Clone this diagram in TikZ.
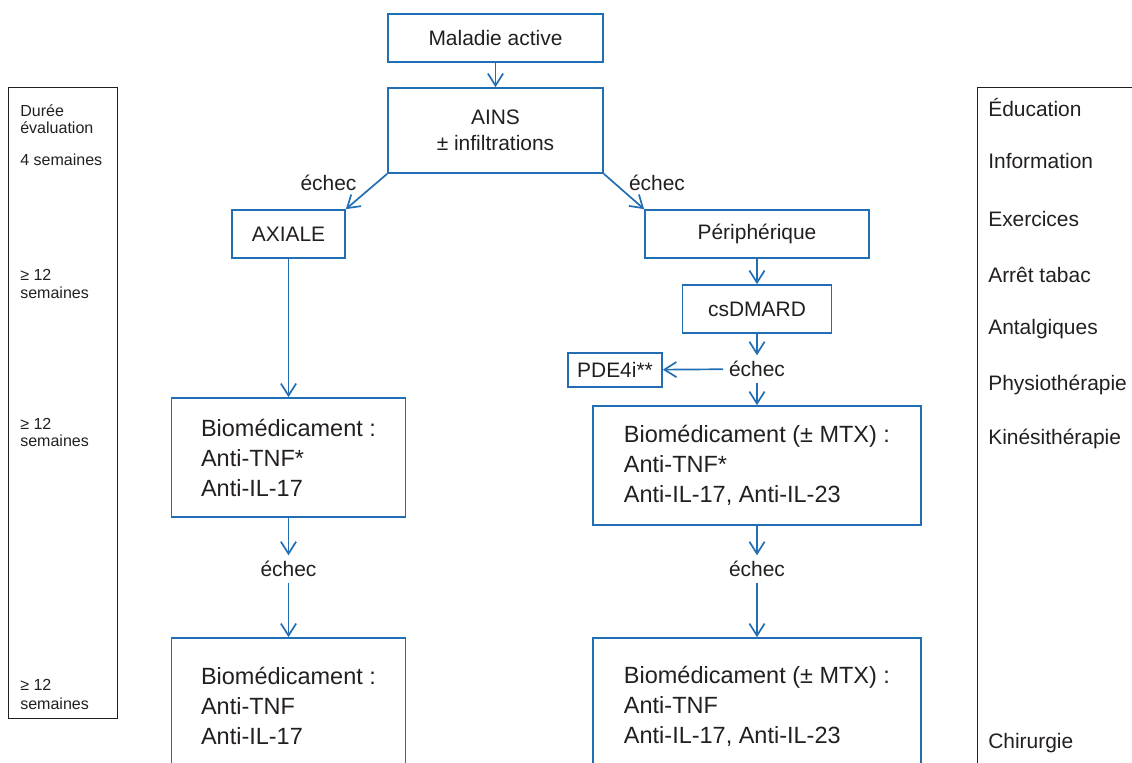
\documentclass[tikz,border=0pt]{standalone}
\usepackage{fontspec}
\setmainfont{Liberation Sans}
\usepackage{tikz}
\usetikzlibrary{arrows.meta}
\definecolor{flowblue}{RGB}{33,110,180}
\definecolor{ink}{RGB}{35,31,32}

\begin{document}
\begin{tikzpicture}[
  x=0.025cm, y=-0.025cm,
  every node/.style={text=ink, font=\fontsize{14.9pt}{18.5pt}\selectfont},
  box/.style={rectangle, draw=flowblue, line width=1.2pt, minimum height=1.2cm, align=center},
  biobox/.style={box, minimum width=#1, minimum height=2.975cm, align=left,
    font=\fontsize{16.7pt}{21.3pt}\selectfont},
  fail/.style={inner sep=4pt},
  flow/.style={draw=flowblue, line width=1.2pt, -{Straight Barb[length=0.3cm,width=0.38cm]}},
  guide/.style={rectangle, draw=ink, line width=0.8pt, minimum width=#1, anchor=north west},
  small/.style={anchor=west, inner sep=0pt, font=\fontsize{11.4pt}{12pt}\selectfont},
  care/.style={anchor=west, inner sep=0pt}
]
\useasboundingbox (0,0) rectangle (1132,763);
\clip (0,0) rectangle (1132,763);

\node[box, minimum width=5.375cm] (mal) at (495.5,38) {Maladie active};
\node[box, minimum width=5.375cm, minimum height=2.125cm] (ains) at (495.5,130.5) {AINS\\± infiltrations};
\node[fail] (echg) at (328.5,183) {échec};
\node[fail] (echd) at (657,183) {échec};
\node[box, minimum width=2.825cm] (axe) at (288.5,234) {AXIALE};
\node[box, minimum width=5.6cm] (peri) at (757,234) {Périphérique};
\node[box, minimum width=3.725cm] (csd) at (757,309) {csDMARD};
\node[fail] (echc) at (757,369) {échec};
\node[box, minimum width=2.35cm, minimum height=0.85cm] (pde) at (615,370) {PDE4i**};
\node[biobox=5.85cm] (bioa) at (288.5,457.5) {Biomédicament :\\Anti-TNF*\\Anti-IL-17};
\node[biobox=8.2cm] (biop) at (757,465.5) {Biomédicament (± MTX) :\\Anti-TNF*\\Anti-IL-17, Anti-IL-23};
\node[fail] (echa) at (288.5,569) {échec};
\node[fail] (echp) at (757,569) {échec};
\node[biobox=5.85cm, minimum height=3.4cm] (bioaa) at (288.5,706) {Biomédicament :\\Anti-TNF\\Anti-IL-17};
\node[biobox=8.2cm, minimum height=3.4cm] (biopp) at (757,706) {Biomédicament (± MTX) :\\Anti-TNF\\Anti-IL-17, Anti-IL-23};

\draw[flow] (mal) -- (ains);
\draw[flow] (ains.south west) -- (axe.north east);
\draw[flow] (ains.south east) -- (peri.north west);
\draw[flow] (axe) -- (bioa);
\draw[flow] (peri) -- (csd);
\draw[flow] (csd) -- (echc);
\draw[flow] (echc) -- (pde);
\draw[flow] (echc) -- (biop);
\draw[flow] (bioa) -- (echa);
\draw[flow] (echa) -- (bioaa);
\draw[flow] (biop) -- (echp);
\draw[flow] (echp) -- (biopp);

\node[guide=2.725cm, minimum height=15.775cm] (duree) at (8,87) {};
\node[small] (d1) at (20,111) {Durée};
\node[small] (d2) at (20,128) {évaluation};
\node[small] (d3) at (20,160) {4 semaines};
\node[small] (d4) at (20,275) {≥ 12};
\node[small] (d5) at (20,293) {semaines};
\node[small] (d6) at (20,424) {≥ 12};
\node[small] (d7) at (20,441) {semaines};
\node[small] (d8) at (20,685) {≥ 12};
\node[small] (d9) at (20,704) {semaines};

\node[guide=5cm, minimum height=17.5cm] (soins) at (977,87) {};
\node[care] (s1) at (988,108) {Éducation};
\node[care] (s2) at (988,161.5) {Information};
\node[care] (s3) at (988,219.5) {Exercices};
\node[care] (s4) at (988,275) {Arrêt tabac};
\node[care] (s5) at (988,329) {Antalgiques};
\node[care] (s6) at (988,385) {Physiothérapie};
\node[care] (s7) at (988,438.5) {Kinésithérapie};
\node[care] (s8) at (988,743) {Chirurgie};
\end{tikzpicture}
\end{document}
